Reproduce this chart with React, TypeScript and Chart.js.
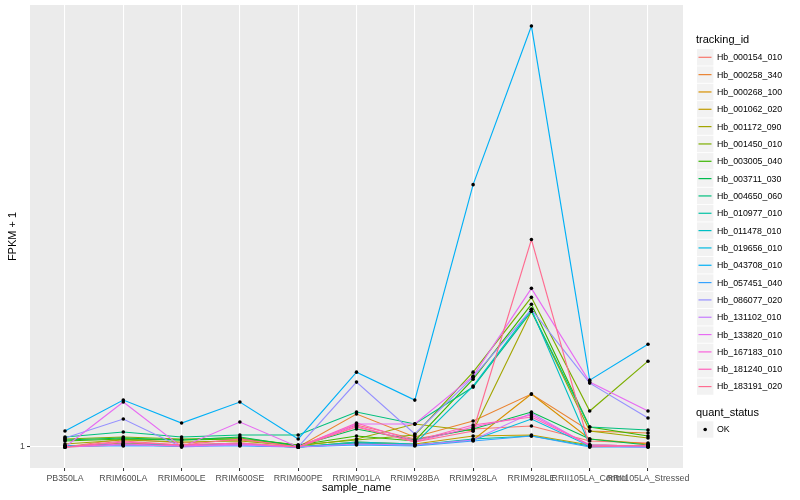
import React, { useEffect, useRef } from "react";
import { Chart, registerables } from "chart.js";

Chart.register(...registerables);

const sampleNames = [
  "PB350LA", "RRIM600LA", "RRIM600LE", "RRIM600SE", "RRIM600PE", "RRIM901LA",
  "RRIM928BA", "RRIM928LA", "RRIM928LE", "RRII105LA_Control", "RRII105LA_Stressed",
];

const trackingIds = [
  "Hb_000154_010", "Hb_000258_340", "Hb_000268_100", "Hb_001062_020", "Hb_001172_090",
  "Hb_001450_010", "Hb_003005_040", "Hb_003711_030", "Hb_004650_060", "Hb_010977_010",
  "Hb_011478_010", "Hb_019656_010", "Hb_043708_010", "Hb_057451_040", "Hb_086077_020",
  "Hb_131102_010", "Hb_133820_010", "Hb_167183_010", "Hb_181240_010", "Hb_183191_020",
];

const seriesColors = [
  "#F8766D", "#EA8331", "#D89000", "#C09B00", "#A3A500", "#7CAE00", "#39B600", "#00BB4E",
  "#00BF7D", "#00C1A3", "#00BFC4", "#00BAE0", "#00B0F6", "#35A2FF", "#9590FF", "#C77CFF",
  "#E76BF3", "#FA62DB", "#FF62BC", "#FF6C91",
];

// FPKM + 1 values per tracking id, one per sample
const hb000154_010 = [1, 1.16, 1.08, 1.14, 1.02, 1.44, 1.16, 1.36, 1.42, 1.12, 1.08];
const hb000258_340 = [1, 1.08, 1.04, 1.06, 1, 1.66, 1.2, 1.52, 2.06, 1.32, 1.28];
const hb000268_100 = [1, 1.04, 1.02, 1.04, 1, 1.08, 1.04, 1.14, 2.06, 1.16, 1.06];
const hb001062_020 = [1.02, 1.06, 1.04, 1.08, 1, 1.1, 1.06, 1.22, 1.24, 1.04, 1.02];
const hb001172_090 = [1.06, 1.14, 1.1, 1.12, 1.02, 1.16, 1.46, 1.32, 3.72, 1.32, 1.18];
const hb001450_010 = [1.16, 1.2, 1.16, 1.18, 1.04, 1.14, 1.24, 2.5, 4.0, 1.72, 2.72];
const hb003005_040 = [1.12, 1.16, 1.14, 1.16, 1.04, 1.22, 1.12, 2.36, 3.86, 1.4, 1.22];
const hb003711_030 = [1.14, 1.18, 1.14, 1.2, 1.02, 1.36, 1.14, 1.36, 1.7, 1.16, 1.04];
const hb004650_060 = [1.2, 1.3, 1.2, 1.24, 1.24, 1.7, 1.46, 2.2, 3.72, 1.4, 1.34];
const hb010977_010 = [1.02, 1.04, 1.02, 1.04, 1, 1.08, 1.04, 1.16, 1.22, 1.02, 1.02];
const hb011478_010 = [1.02, 1.06, 1.04, 1.06, 1, 1.1, 1.06, 2.22, 3.76, 1.04, 1.02];
const hb019656_010 = [1.02, 1.04, 1.02, 1.04, 1, 1.06, 1.04, 1.14, 1.56, 1.02, 1];
const hb043708_010 = [1.32, 1.94, 1.48, 1.9, 1.16, 2.5, 1.94, 6.26, 9.44, 2.34, 3.06];
const hb057451_040 = [1.02, 1.02, 1.02, 1.02, 1, 1.04, 1.02, 1.12, 1.22, 1, 1];
const hb086077_020 = [1.18, 1.56, 1, 1.04, 1, 2.3, 1.26, 2.4, 3.76, 2.28, 1.58];
const hb131102_010 = [1, 1.04, 1.02, 1.04, 1, 1.06, 1.04, 1.14, 1.68, 1.02, 1];
const hb133820_010 = [1, 1.9, 1, 1.5, 1, 1.46, 1.46, 2.42, 4.18, 2.3, 1.72];
const hb167183_010 = [1, 1.06, 1.02, 1.06, 1, 1.42, 1.1, 1.4, 1.64, 1.04, 1.02];
const hb181240_010 = [1, 1.1, 1.04, 1.08, 1, 1.48, 1.12, 1.44, 1.6, 1.04, 1.02];
const hb183191_020 = [1, 1.12, 1.04, 1.16, 1, 1.4, 1.1, 1.32, 5.16, 1, 1.04];

const seriesValues = [
  hb000154_010, hb000258_340, hb000268_100, hb001062_020, hb001172_090,
  hb001450_010, hb003005_040, hb003711_030, hb004650_060, hb010977_010,
  hb011478_010, hb019656_010, hb043708_010, hb057451_040, hb086077_020,
  hb131102_010, hb133820_010, hb167183_010, hb181240_010, hb183191_020,
];

const yTicks = [1];
const yTickLabels = ["1"];
const quantStatus = ["OK"];

const FONT = "'Liberation Sans', Arial, Helvetica, sans-serif";

export default function App() {
  const canvasRef = useRef<HTMLCanvasElement | null>(null);

  useEffect(() => {
    const canvas = canvasRef.current;
    if (!canvas) return;

    const allVals = seriesValues.flat();
    const yMinD = Math.min(...allVals);
    const yMaxD = Math.max(...allVals);
    const yPad = (yMaxD - yMinD) * 0.05;

    const toPoints = (vals: number[]) => vals.map((v, i) => ({ x: i, y: v }));

    const lineSets = seriesValues.map((vals, i) => ({
      label: trackingIds[i],
      data: toPoints(vals),
      borderColor: seriesColors[i],
      backgroundColor: seriesColors[i],
      borderWidth: 1.15,
      pointRadius: 0,
      fill: false,
      tension: 0,
      order: 100 - i,
    }));
    const pointSets = seriesValues.map((vals, i) => ({
      label: trackingIds[i] + "_pts",
      data: toPoints(vals),
      showLine: false,
      pointRadius: 1.8,
      pointBackgroundColor: "#000000",
      pointBorderWidth: 0,
      borderColor: "#000000",
      order: 0,
    }));

    const bgPlugin = {
      id: "ggbg",
      beforeDraw(chart: any) {
        const { ctx, chartArea } = chart;
        ctx.save();
        ctx.fillStyle = "#FFFFFF";
        ctx.fillRect(0, 0, chart.width, chart.height);
        ctx.fillStyle = "#EBEBEB";
        ctx.fillRect(chartArea.left, chartArea.top, chartArea.right - chartArea.left, chartArea.bottom - chartArea.top);
        ctx.restore();
      },
    };

    const decoPlugin = {
      id: "ggdeco",
      afterDraw(chart: any) {
        const { ctx, chartArea } = chart;
        ctx.save();
        ctx.fillStyle = "#000000";
        ctx.font = `11px ${FONT}`;
        ctx.textAlign = "center";
        ctx.textBaseline = "middle";
        ctx.fillText("sample_name", (chartArea.left + chartArea.right) / 2, 488);
        ctx.save();
        ctx.translate(13, (chartArea.top + chartArea.bottom) / 2);
        ctx.rotate(-Math.PI / 2);
        ctx.fillText("FPKM + 1", 0, 0);
        ctx.restore();

        const lx = 696;
        ctx.textAlign = "left";
        ctx.font = `11px ${FONT}`;
        ctx.fillText("tracking_id", lx, 40);
        const rowH = 17.33;
        const firstY = 57.3;
        ctx.font = `8.8px ${FONT}`;
        trackingIds.forEach((id, i) => {
          const cy = firstY + i * rowH;
          ctx.fillStyle = "#F2F2F2";
          ctx.fillRect(697, cy - 8.2, 16.4, 16.4);
          ctx.strokeStyle = seriesColors[i];
          ctx.lineWidth = 1.2;
          ctx.beginPath();
          ctx.moveTo(698.5, cy);
          ctx.lineTo(711.5, cy);
          ctx.stroke();
          ctx.fillStyle = "#000000";
          ctx.fillText(id, 717, cy + 0.5);
        });

        ctx.font = `11px ${FONT}`;
        ctx.fillText("quant_status", lx, 412.7);
        ctx.font = `8.8px ${FONT}`;
        quantStatus.forEach((s, i) => {
          const cy = 429.5 + i * rowH;
          ctx.fillStyle = "#F2F2F2";
          ctx.fillRect(697, cy - 8.2, 16.4, 16.4);
          ctx.fillStyle = "#000000";
          ctx.beginPath();
          ctx.arc(705.2, cy, 1.8, 0, Math.PI * 2);
          ctx.fill();
          ctx.fillText(s, 717, cy + 0.5);
        });
        ctx.restore();
      },
    };

    const chart = new Chart(canvas, {
      type: "line",
      data: { datasets: [...lineSets, ...pointSets] as any },
      options: {
        animation: false,
        responsive: false,
        devicePixelRatio: 1,
        layout: { padding: { left: 0, top: 5, right: 117, bottom: 0 } },
        plugins: { legend: { display: false }, tooltip: { enabled: false }, title: { display: false } },
        scales: {
          x: {
            type: "linear",
            min: -0.6,
            max: sampleNames.length - 1 + 0.6,
            afterBuildTicks(scale: any) {
              scale.ticks = sampleNames.map((_, i) => ({ value: i }));
            },
            afterFit(scale: any) {
              scale.height = 32;
              scale.paddingLeft = 0;
              scale.paddingRight = 0;
              scale.paddingTop = 0;
              scale.paddingBottom = 0;
            },
            ticks: {
              autoSkip: false,
              maxRotation: 0,
              minRotation: 0,
              padding: 2,
              color: "#4D4D4D",
              font: { family: FONT, size: 8.8 },
              callback: (v: any) => sampleNames[Math.round(Number(v))] ?? "",
            },
            grid: {
              color: "#FFFFFF",
              lineWidth: 1.07,
              drawTicks: true,
              tickLength: 3,
              tickColor: "#333333",
              tickWidth: 1,
            },
            border: { display: false },
          },
          y: {
            type: "linear",
            min: yMinD - yPad,
            max: yMaxD + yPad,
            afterBuildTicks(scale: any) {
              scale.ticks = yTicks.map((v) => ({ value: v }));
            },
            afterFit(scale: any) {
              scale.width = 30;
              scale.paddingLeft = 0;
              scale.paddingRight = 0;
              scale.paddingTop = 0;
              scale.paddingBottom = 0;
            },
            ticks: {
              padding: 2,
              color: "#4D4D4D",
              font: { family: FONT, size: 8.8 },
              callback: (v: any) => {
                const idx = yTicks.indexOf(Number(v));
                return idx >= 0 ? yTickLabels[idx] : "";
              },
            },
            grid: {
              color: "#FFFFFF",
              lineWidth: 1.07,
              drawTicks: true,
              tickLength: 3,
              tickColor: "#333333",
              tickWidth: 1,
            },
            border: { display: false },
          },
        },
      } as any,
      plugins: [bgPlugin, decoPlugin],
    });

    return () => chart.destroy();
  }, []);

  return (
    <div style={{ position: "absolute", left: 0, top: 0, width: 800, height: 500, background: "#fff" }}>
      <canvas ref={canvasRef} width={800} height={500} style={{ width: 800, height: 500, display: "block" }} />
    </div>
  );
}
